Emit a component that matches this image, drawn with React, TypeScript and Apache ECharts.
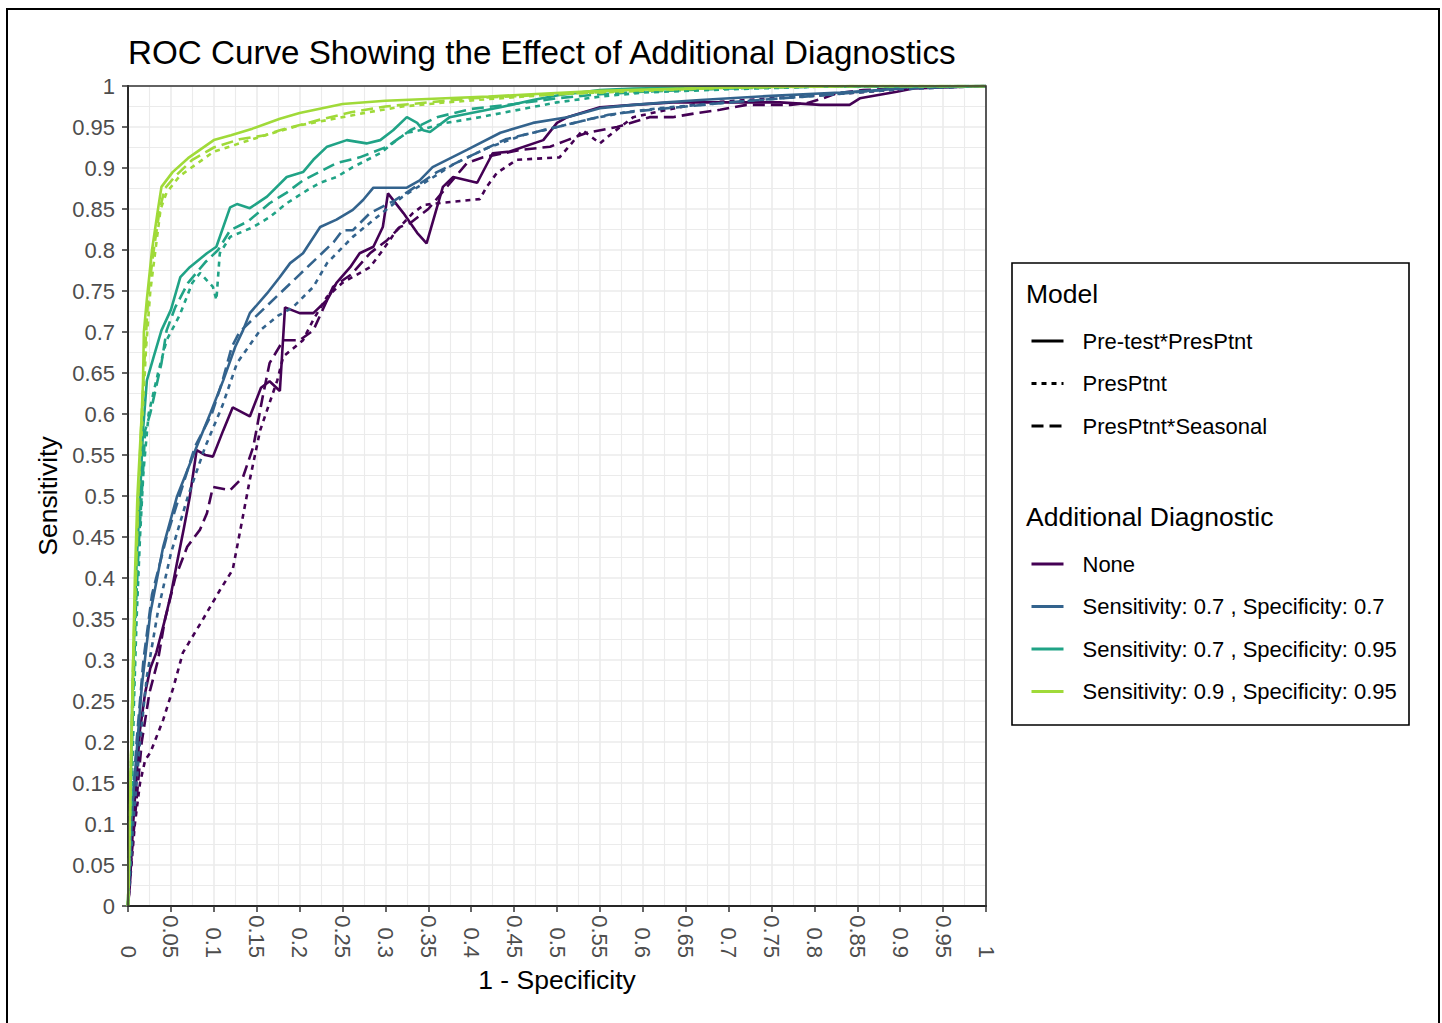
import React, { useEffect, useRef } from "react";
import * as echarts from "echarts";

type Pt = [number, number];

// ---------- Data (1 - Specificity, Sensitivity) ----------
const modelNames = ["Pre-test*PresPtnt", "PresPtnt", "PresPtnt*Seasonal"];
const diagnosticNames = [
  "None",
  "Sensitivity: 0.7 , Specificity: 0.7",
  "Sensitivity: 0.7 , Specificity: 0.95",
  "Sensitivity: 0.9 , Specificity: 0.95",
];

const noneSolid: Pt[] = [
  [0, 0], [0.002, 0.023], [0.006, 0.1], [0.01, 0.16], [0.014, 0.215], [0.02, 0.26], [0.026, 0.29],
  [0.033, 0.309], [0.043, 0.349], [0.05, 0.38], [0.057, 0.418], [0.065, 0.46], [0.072, 0.499],
  [0.08, 0.556], [0.09, 0.55], [0.099, 0.548], [0.111, 0.58], [0.122, 0.608], [0.142, 0.597],
  [0.155, 0.632], [0.165, 0.64], [0.177, 0.628], [0.183, 0.73], [0.2, 0.723], [0.216, 0.723],
  [0.232, 0.739], [0.243, 0.76], [0.259, 0.779], [0.27, 0.796], [0.286, 0.804], [0.297, 0.828],
  [0.303, 0.869], [0.321, 0.845], [0.337, 0.821], [0.348, 0.808], [0.367, 0.877], [0.379, 0.889],
  [0.407, 0.882], [0.425, 0.918], [0.445, 0.92], [0.484, 0.934], [0.5, 0.955], [0.512, 0.962],
  [0.55, 0.974], [0.589, 0.977], [0.635, 0.98], [0.702, 0.98], [0.76, 0.98], [0.807, 0.977],
  [0.841, 0.977], [0.853, 0.985], [0.896, 0.993], [0.915, 0.997], [1, 1],
];
const noneDotted: Pt[] = [
  [0, 0], [0.004, 0.05], [0.008, 0.1], [0.014, 0.15], [0.02, 0.178], [0.026, 0.187], [0.041, 0.227],
  [0.053, 0.267], [0.064, 0.309], [0.087, 0.349], [0.107, 0.385], [0.122, 0.41], [0.131, 0.459],
  [0.142, 0.52], [0.154, 0.58], [0.174, 0.641], [0.181, 0.67], [0.204, 0.69], [0.216, 0.715],
  [0.232, 0.743], [0.25, 0.76], [0.282, 0.779], [0.297, 0.8], [0.313, 0.824], [0.332, 0.845],
  [0.345, 0.855], [0.37, 0.858], [0.41, 0.862], [0.418, 0.877], [0.43, 0.894], [0.453, 0.91],
  [0.503, 0.913], [0.53, 0.946], [0.55, 0.93], [0.565, 0.943], [0.589, 0.962], [0.628, 0.971],
  [0.667, 0.979], [0.75, 0.985], [0.85, 0.992], [0.92, 0.998], [1, 1],
];
const noneDashed: Pt[] = [
  [0, 0], [0.004, 0.06], [0.01, 0.13], [0.016, 0.2], [0.025, 0.26], [0.035, 0.3], [0.043, 0.349],
  [0.055, 0.4], [0.069, 0.438], [0.084, 0.459], [0.092, 0.479], [0.099, 0.511], [0.119, 0.507],
  [0.134, 0.523], [0.146, 0.56], [0.157, 0.621], [0.165, 0.662], [0.181, 0.69], [0.2, 0.69],
  [0.216, 0.702], [0.239, 0.755], [0.26, 0.77], [0.282, 0.796], [0.302, 0.812], [0.317, 0.828],
  [0.329, 0.833], [0.35, 0.85], [0.37, 0.875], [0.395, 0.906], [0.414, 0.913], [0.457, 0.922],
  [0.492, 0.926], [0.512, 0.934], [0.535, 0.943], [0.57, 0.95], [0.608, 0.962], [0.635, 0.962],
  [0.663, 0.967], [0.69, 0.971], [0.721, 0.977], [0.772, 0.977], [0.791, 0.979], [0.81, 0.985],
  [0.826, 0.991], [0.857, 0.995], [0.896, 0.997], [0.935, 0.999], [1, 1],
];

const blueSolid: Pt[] = [
  [0, 0], [0.004, 0.105], [0.01, 0.187], [0.016, 0.267], [0.026, 0.357], [0.041, 0.438],
  [0.057, 0.499], [0.08, 0.56], [0.096, 0.601], [0.111, 0.641], [0.125, 0.682], [0.134, 0.702],
  [0.142, 0.723], [0.162, 0.747], [0.177, 0.767], [0.189, 0.784], [0.204, 0.796], [0.224, 0.828],
  [0.243, 0.837], [0.262, 0.849], [0.274, 0.861], [0.286, 0.876], [0.325, 0.876], [0.34, 0.885],
  [0.355, 0.901], [0.395, 0.922], [0.434, 0.943], [0.472, 0.955], [0.512, 0.962], [0.55, 0.973],
  [0.589, 0.977], [0.628, 0.98], [0.667, 0.983], [0.75, 0.988], [0.83, 0.992], [0.876, 0.995],
  [0.915, 0.999], [1, 1],
];
const blueDotted: Pt[] = [
  [0, 0], [0.006, 0.1], [0.014, 0.2], [0.022, 0.28], [0.035, 0.36], [0.05, 0.43], [0.07, 0.5],
  [0.09, 0.56], [0.11, 0.61], [0.127, 0.662], [0.154, 0.702], [0.175, 0.72], [0.192, 0.73],
  [0.216, 0.755], [0.232, 0.784], [0.262, 0.816], [0.29, 0.84], [0.32, 0.865], [0.35, 0.885],
  [0.38, 0.905], [0.42, 0.925], [0.46, 0.94], [0.5, 0.95], [0.54, 0.96], [0.58, 0.968],
  [0.62, 0.973], [0.7, 0.98], [0.8, 0.988], [0.9, 0.996], [1, 1],
];
const blueDashed: Pt[] = [
  [0, 0], [0.004, 0.1], [0.01, 0.2], [0.018, 0.3], [0.028, 0.38], [0.045, 0.45], [0.06, 0.5],
  [0.078, 0.56], [0.098, 0.601], [0.11, 0.64], [0.121, 0.682], [0.13, 0.7], [0.15, 0.72],
  [0.175, 0.745], [0.2, 0.77], [0.22, 0.79], [0.24, 0.81], [0.25, 0.824], [0.262, 0.824],
  [0.282, 0.845], [0.31, 0.86], [0.329, 0.873], [0.36, 0.895], [0.4, 0.915], [0.44, 0.935],
  [0.48, 0.945], [0.52, 0.955], [0.56, 0.965], [0.6, 0.97], [0.65, 0.975], [0.7, 0.98],
  [0.8, 0.988], [0.9, 0.997], [1, 1],
];

const tealSolid: Pt[] = [
  [0, 0], [0.003, 0.14], [0.005, 0.25], [0.008, 0.357], [0.01, 0.418], [0.014, 0.499],
  [0.0175, 0.58], [0.022, 0.641], [0.03, 0.67], [0.039, 0.702], [0.05, 0.727], [0.061, 0.767],
  [0.072, 0.779], [0.092, 0.796], [0.103, 0.804], [0.119, 0.852], [0.127, 0.856], [0.142, 0.851],
  [0.162, 0.865], [0.185, 0.889], [0.204, 0.895], [0.216, 0.91], [0.232, 0.926], [0.255, 0.934],
  [0.278, 0.93], [0.294, 0.934], [0.309, 0.946], [0.325, 0.962], [0.337, 0.955], [0.344, 0.946],
  [0.352, 0.944], [0.375, 0.962], [0.434, 0.974], [0.472, 0.983], [0.503, 0.989], [0.55, 0.995],
  [0.589, 0.997], [0.7, 0.999], [1, 1],
];
const tealDotted: Pt[] = [
  [0, 0], [0.004, 0.12], [0.007, 0.25], [0.01, 0.35], [0.014, 0.45], [0.018, 0.53], [0.024, 0.6],
  [0.035, 0.65], [0.045, 0.69], [0.06, 0.72], [0.075, 0.76], [0.084, 0.772], [0.099, 0.755],
  [0.103, 0.739], [0.107, 0.796], [0.119, 0.816], [0.146, 0.828], [0.165, 0.84], [0.185, 0.857],
  [0.209, 0.873], [0.224, 0.882], [0.243, 0.889], [0.262, 0.901], [0.294, 0.918], [0.313, 0.934],
  [0.325, 0.943], [0.34, 0.946], [0.37, 0.955], [0.4, 0.96], [0.45, 0.97], [0.5, 0.98],
  [0.55, 0.987], [0.6, 0.992], [0.7, 0.996], [0.8, 0.999], [1, 1],
];
const tealDashed: Pt[] = [
  [0, 0], [0.003, 0.12], [0.006, 0.25], [0.009, 0.36], [0.013, 0.45], [0.017, 0.52], [0.02, 0.58],
  [0.026, 0.601], [0.039, 0.662], [0.045, 0.702], [0.055, 0.73], [0.07, 0.76], [0.09, 0.785],
  [0.105, 0.8], [0.119, 0.824], [0.14, 0.835], [0.165, 0.857], [0.185, 0.87], [0.204, 0.885],
  [0.243, 0.906], [0.27, 0.913], [0.302, 0.926], [0.329, 0.946], [0.36, 0.962], [0.4, 0.972],
  [0.45, 0.978], [0.5, 0.985], [0.55, 0.99], [0.6, 0.993], [0.7, 0.997], [0.8, 0.999], [1, 1],
];

const limeSolid: Pt[] = [
  [0, 0], [0.002, 0.1], [0.004, 0.2], [0.006, 0.3], [0.008, 0.4], [0.011, 0.5], [0.016, 0.6],
  [0.0175, 0.64], [0.0185, 0.7], [0.022, 0.74], [0.028, 0.8], [0.035, 0.85], [0.039, 0.877],
  [0.052, 0.895], [0.07, 0.912], [0.1, 0.934], [0.12, 0.94], [0.145, 0.948], [0.177, 0.96],
  [0.2, 0.967], [0.25, 0.978], [0.3, 0.982], [0.37, 0.985], [0.42, 0.987], [0.47, 0.99],
  [0.55, 0.994], [0.65, 0.997], [0.75, 0.999], [0.85, 1], [1, 1],
];
const limeDotted: Pt[] = [
  [0, 0], [0.002, 0.1], [0.004, 0.2], [0.007, 0.3], [0.009, 0.4], [0.012, 0.5], [0.017, 0.6],
  [0.021, 0.68], [0.026, 0.75], [0.032, 0.8], [0.038, 0.85], [0.045, 0.87], [0.06, 0.89],
  [0.08, 0.905], [0.1, 0.92], [0.13, 0.93], [0.16, 0.94], [0.2, 0.952], [0.24, 0.96],
  [0.28, 0.968], [0.32, 0.975], [0.37, 0.98], [0.42, 0.984], [0.5, 0.99], [0.6, 0.994],
  [0.7, 0.998], [0.85, 1], [1, 1],
];
const limeDashed: Pt[] = [
  [0, 0], [0.002, 0.1], [0.004, 0.2], [0.006, 0.3], [0.009, 0.4], [0.012, 0.5], [0.016, 0.6],
  [0.02, 0.68], [0.024, 0.75], [0.03, 0.8], [0.037, 0.85], [0.043, 0.875], [0.055, 0.89],
  [0.075, 0.91], [0.1, 0.925], [0.13, 0.935], [0.16, 0.94], [0.177, 0.946], [0.224, 0.959],
  [0.26, 0.968], [0.3, 0.975], [0.35, 0.98], [0.4, 0.985], [0.5, 0.99], [0.6, 0.995],
  [0.7, 0.998], [0.85, 1], [1, 1],
];

// curves[diagnostic][model]
const curves: Pt[][][] = [
  [noneSolid, noneDotted, noneDashed],
  [blueSolid, blueDotted, blueDashed],
  [tealSolid, tealDotted, tealDashed],
  [limeSolid, limeDotted, limeDashed],
];

// ---------- Styling ----------
const diagColors = ["#440154", "#33638D", "#20A386", "#A0DA39"];
const modelDash: any[] = ["solid", [5, 5], [12, 6]];
const FONT = "'Liberation Sans', Arial, sans-serif";

export default function App() {
  const ref = useRef<HTMLDivElement>(null);

  useEffect(() => {
    if (!ref.current) return;
    const chart = echarts.init(ref.current, undefined, { renderer: "svg" });

    const series: any[] = [];
    diagnosticNames.forEach((d, di) => {
      modelNames.forEach((m, mi) => {
        series.push({
          type: "line",
          name: `${d} | ${m}`,
          data: curves[di][mi],
          showSymbol: false,
          symbol: "none",
          silent: true,
          clip: true,
          lineStyle: { color: diagColors[di], width: 2.6, type: modelDash[mi] },
          itemStyle: { color: diagColors[di] },
          z: 3,
        });
      });
    });
    // legend-only entries
    modelNames.forEach((m, mi) => {
      series.push({
        type: "line",
        name: m,
        data: [],
        symbol: "none",
        lineStyle: { color: "#000", width: 3, type: modelDash[mi] },
        itemStyle: { color: "#000" },
      });
    });
    diagnosticNames.forEach((d, di) => {
      series.push({
        type: "line",
        name: d,
        data: [],
        symbol: "none",
        lineStyle: { color: diagColors[di], width: 3, type: "solid" },
        itemStyle: { color: diagColors[di] },
      });
    });

    const gridLine = { lineStyle: { color: "#EBEBEB", width: 1.6 } };
    const minorGridLine = { show: true, lineStyle: { color: "#EBEBEB", width: 1.1 } };
    const legendCommon = {
      orient: "vertical",
      left: 1030,
      padding: 0,
      itemWidth: 32,
      itemHeight: 14,
      itemGap: 20.5,
      selectedMode: false,
      itemStyle: { color: "transparent", borderWidth: 0, borderColor: "transparent" },
      lineStyle: { width: 3 },
      textStyle: { fontSize: 22, color: "#000", fontFamily: FONT, padding: [0, 0, 0, 14] },
    };

    chart.setOption({
      animation: false,
      backgroundColor: "#fff",
      title: {
        text: "ROC Curve Showing the Effect of Additional Diagnostics",
        left: 128,
        top: 36,
        padding: 0,
        textStyle: { fontSize: 33.2, fontWeight: "normal", color: "#000", fontFamily: FONT },
      },
      grid: { left: 128, top: 86, width: 858, height: 820, containLabel: false },
      xAxis: {
        type: "value",
        min: 0,
        max: 1,
        interval: 0.05,
        name: "1 - Specificity",
        nameLocation: "middle",
        nameGap: 60,
        nameTextStyle: { fontSize: 26.5, color: "#000", fontFamily: FONT },
        axisLine: { show: true, onZero: false, lineStyle: { color: "#000", width: 2 } },
        axisTick: { show: true, length: 6, lineStyle: { color: "#333", width: 1.5 } },
        axisLabel: {
          rotate: -90,
          align: "right",
          verticalAlign: "middle",
          margin: 52,
          fontSize: 22,
          color: "#4D4D4D",
          fontFamily: FONT,
        },
        splitLine: { show: true, ...gridLine },
        minorTick: { show: false, splitNumber: 2 },
        minorSplitLine: minorGridLine,
      },
      yAxis: {
        type: "value",
        min: 0,
        max: 1,
        interval: 0.05,
        name: "Sensitivity",
        nameLocation: "middle",
        nameGap: 59,
        nameRotate: 90,
        nameTextStyle: { fontSize: 26.5, color: "#000", fontFamily: FONT },
        axisLine: { show: true, onZero: false, lineStyle: { color: "#000", width: 2 } },
        axisTick: { show: true, length: 6, lineStyle: { color: "#333", width: 1.5 } },
        axisLabel: { margin: 13, fontSize: 22, color: "#4D4D4D", fontFamily: FONT },
        splitLine: { show: true, ...gridLine },
        minorTick: { show: false, splitNumber: 2 },
        minorSplitLine: minorGridLine,
      },
      legend: [
        { ...legendCommon, top: 330, data: modelNames },
        { ...legendCommon, top: 553, data: diagnosticNames },
      ],
      graphic: [
        {
          type: "rect",
          shape: { x: 7, y: 9, width: 1432, height: 1100 },
          style: { fill: "none", stroke: "#000", lineWidth: 2 },
          silent: true,
          z: 0,
        },
        {
          type: "rect",
          shape: { x: 128, y: 86, width: 858, height: 820 },
          style: { fill: "none", stroke: "#333", lineWidth: 1.6 },
          silent: true,
          z: 10,
        },
        {
          type: "rect",
          shape: { x: 1012, y: 263, width: 397, height: 462 },
          style: { fill: "none", stroke: "#000", lineWidth: 1.6 },
          silent: true,
          z: 10,
        },
        {
          type: "text",
          x: 1026,
          y: 294,
          style: {
            text: "Model",
            fill: "#000",
            font: `26.5px ${FONT}`,
            verticalAlign: "middle",
            align: "left",
          },
          z: 10,
        },
        {
          type: "text",
          x: 1026,
          y: 517,
          style: {
            text: "Additional Diagnostic",
            fill: "#000",
            font: `26.5px ${FONT}`,
            verticalAlign: "middle",
            align: "left",
          },
          z: 10,
        },
      ],
      series,
    });

    return () => chart.dispose();
  }, []);

  return (
    <div
      ref={ref}
      style={{ position: "absolute", left: 0, top: 0, width: 1442, height: 1023, background: "#fff" }}
    />
  );
}
